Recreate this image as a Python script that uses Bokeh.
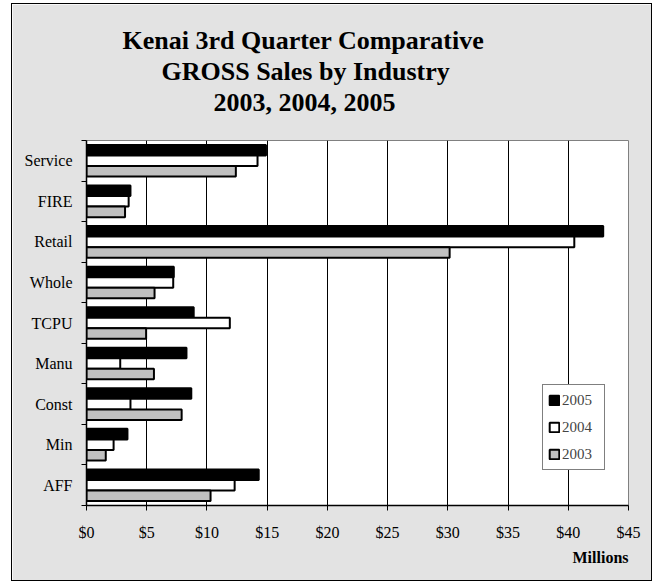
from bokeh.plotting import figure
from bokeh.models import FixedTicker, Title, Legend, LegendItem, ColumnDataSource
from bokeh.embed import file_html
from bokeh.resources import INLINE

# Data (bottom to top order)
categories = ["AFF", "Min", "Const", "Manu", "TCPU", "Whole", "Retail", "FIRE", "Service"]
sales_2005 = [14.3, 3.4, 8.7, 8.3, 8.9, 7.25, 42.9, 3.65, 14.9]
sales_2004 = [12.3, 2.25, 3.65, 2.8, 11.9, 7.2, 40.5, 3.5, 14.2]
sales_2003 = [10.3, 1.6, 7.9, 5.6, 4.95, 5.65, 30.15, 3.2, 12.4]
x_tick_values = [0, 5, 10, 15, 20, 25, 30, 35, 40, 45]
x_tick_labels = ["$0", "$5", "$10", "$15", "$20", "$25", "$30", "$35", "$40", "$45"]
series_names = ["2005", "2004", "2003"]

SERIF = "Liberation Serif"
BG = "#e3e3e3"

p = figure(width=641, height=578, output_backend="svg", toolbar_location=None,
           x_range=(0, 45), y_range=(0, 9), title=None)
p.styles = {"margin-left": "11px", "margin-top": "3px", "border": "1px solid black"}
p.min_border_left = 74
p.min_border_right = 25
p.min_border_top = 136
p.min_border_bottom = 77
p.border_fill_color = BG
p.background_fill_color = "white"
p.outline_line_color = "#808080"
p.outline_line_width = 1

n = len(categories)
centers = [i + 0.5 for i in range(n)]
bh = 0.26
src = ColumnDataSource(dict(
    cat=categories,
    y05=[c + bh for c in centers],
    y04=centers,
    y03=[c - bh for c in centers],
    s05=sales_2005, s04=sales_2004, s03=sales_2003,
))

# grid
p.ygrid.visible = False
p.xgrid.ticker = FixedTicker(ticks=x_tick_values)
p.xgrid.grid_line_color = "black"
p.xgrid.grid_line_width = 1

r05 = p.hbar(y="y05", right="s05", left=0, height=bh, source=src,
             fill_color="black", line_color="black", line_width=2)
r04 = p.hbar(y="y04", right="s04", left=0, height=bh, source=src,
             fill_color="white", line_color="black", line_width=2)
r03 = p.hbar(y="y03", right="s03", left=0, height=bh, source=src,
             fill_color="#c0c0c0", line_color="black", line_width=2)

# x axis
xa = p.xaxis[0]
xa.ticker = FixedTicker(ticks=x_tick_values)
xa.major_label_overrides = {v: l for v, l in zip(x_tick_values, x_tick_labels)}
xa.major_tick_in = 0
xa.major_tick_out = 5
xa.minor_tick_out = 0
xa.minor_tick_in = 0
xa.axis_line_color = "black"
xa.axis_line_width = 1.5
xa.major_tick_line_color = "black"
xa.major_label_text_font = SERIF
xa.major_label_text_font_size = "16px"
xa.major_label_text_color = "black"
xa.major_label_standoff = 13

# y axis
ya = p.yaxis[0]
ya.ticker = FixedTicker(ticks=centers, minor_ticks=list(range(n + 1)))
ya.major_label_overrides = {c: name for c, name in zip(centers, categories)}
ya.major_tick_in = 0
ya.major_tick_out = 0
ya.minor_tick_in = 0
ya.minor_tick_out = 5
ya.minor_tick_line_color = "black"
ya.axis_line_color = "black"
ya.axis_line_width = 1.5
ya.major_label_text_font = SERIF
ya.major_label_text_font_size = "16px"
ya.major_label_text_color = "black"
ya.major_label_standoff = 9

# Legend
legend = Legend(items=[
    LegendItem(label=series_names[0], renderers=[r05]),
    LegendItem(label=series_names[1], renderers=[r04]),
    LegendItem(label=series_names[2], renderers=[r03]),
], location=(456, 35))
legend.label_text_font = SERIF
legend.label_text_font_size = "15px"
legend.glyph_width = 12
legend.glyph_height = 12
legend.label_height = 20
legend.label_width = 37
legend.label_standoff = 2
legend.spacing = 7
legend.padding = 5
legend.margin = 0
legend.border_line_color = "black"
legend.border_line_width = 1
legend.background_fill_color = "white"
legend.background_fill_alpha = 1
p.add_layout(legend, "center")

# spacer between title block and plot frame
p.add_layout(Title(text=" ", text_font_size="20px", standoff=0), "above")
# Titles (added from closest to plot outward)
title_lines = ["2003, 2004, 2005", "GROSS Sales by Industry", "Kenai 3rd Quarter Comparative"]
title_offsets = [127, 75, 36]
for t, off in zip(title_lines, title_offsets):
    p.add_layout(Title(text=t, align="left", text_font=SERIF, text_font_size="26px",
                       text_font_style="bold", text_color="black", offset=off,
                       standoff=0), "above")

p.add_layout(Title(text="Millions", align="right", text_font=SERIF, text_font_size="16px",
                   text_font_style="bold", text_color="black", standoff=6), "below")

open("out.html", "w").write(file_html(p, INLINE))
